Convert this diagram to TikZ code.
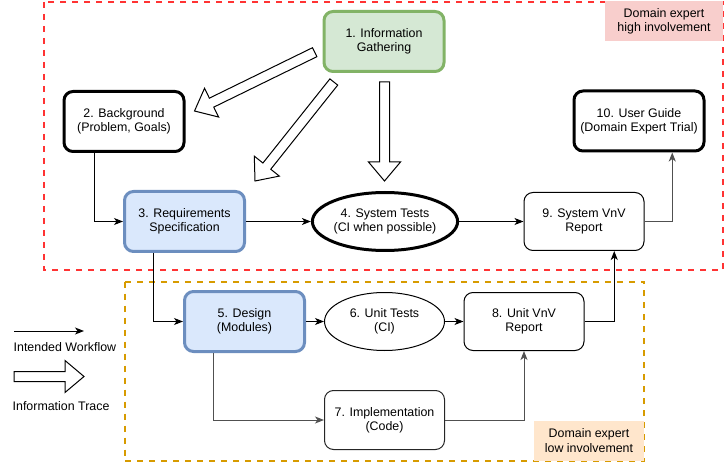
\documentclass[tikz,border=0pt]{standalone}
\usepackage{fontspec}
\setmainfont{Liberation Sans}
\usetikzlibrary{calc,shapes.geometric,arrows.meta}

\definecolor{zoneRed}{HTML}{FF3333}
\definecolor{zoneOrange}{HTML}{D79B00}
\definecolor{tagPink}{HTML}{F8CECC}
\definecolor{tagPeach}{HTML}{FFE6CC}
\definecolor{greenFill}{HTML}{D5E8D4}
\definecolor{greenLine}{HTML}{82B366}
\definecolor{blueFill}{HTML}{DAE8FC}
\definecolor{blueLine}{HTML}{6C8EBF}
\definecolor{edgeGray}{HTML}{505050}

\tikzset{
  txt/.style={font=\fontsize{12.4}{14.4}\selectfont, align=center, text=black},
  box/.style={txt, draw=black, line width=1pt, rounded corners=9pt,
    minimum width=120pt, minimum height=60pt, inner sep=0pt, fill=white},
  boldbox/.style={box, line width=3pt},
  bluebox/.style={box, line width=3pt, draw=blueLine, fill=blueFill},
  greenbox/.style={box, line width=3pt, draw=greenLine, fill=greenFill},
  oval/.style={txt, ellipse, draw=black, line width=1pt, fill=white,
    minimum width=120pt, minimum height=58pt, inner sep=0pt},
  zone/.style={dashed, dash pattern=on 6pt off 6pt, line width=2pt},
  tag/.style={txt, minimum width=#1, minimum height=40pt, inner sep=0pt},
  flow/.style={line width=1pt, -{Stealth[length=9pt,width=7pt,inset=2.5pt]}},
  trace/.style={draw=black, line width=1pt, fill=white, line join=miter},
}

% hollow "information trace" arrow from #1 to #2
\newcommand\tracearrow[2]{%
  \coordinate (tmpH) at ($(#2)!19pt!(#1)$);
  \path[trace]
    ($(#1)!5pt!90:(#2)$) -- ($(tmpH)!5pt!-90:(#1)$) -- ($(tmpH)!16pt!-90:(#1)$)
    -- (#2) -- ($(tmpH)!16pt!90:(#1)$) -- ($(tmpH)!5pt!90:(#1)$)
    -- ($(#1)!5pt!-90:(#2)$) -- cycle;
}

\begin{document}
\begin{tikzpicture}[x=1pt,y=-1pt]
\useasboundingbox (0,0) rectangle (725,462);

% involvement zones
\draw[zone, draw=zoneRed] (44,2) rectangle (723,270);
\draw[zone, draw=zoneOrange] (124.5,281.5) rectangle (644,461);
\node[tag=118pt, fill=tagPink] (hiTag) at (664,21.5) {Domain expert\\high involvement};
\node[tag=110pt, fill=tagPeach] (loTag) at (589,440.5) {Domain expert\\low involvement};

% workflow steps
\node[greenbox] (n1) at (384,41.5) {1. Information\\Gathering};
\node[boldbox] (n2) at (124,121.5) {2. Background\\(Problem, Goals)};
\node[bluebox] (n3) at (184.5,221.5) {3. Requirements\\Specification};
\node[oval, line width=3pt, minimum width=140pt, minimum height=58pt] (n4) at (385,221.5) {4. System Tests\\(CI when possible)};
\node[bluebox] (n5) at (244.5,321.5) {5. Design\\(Modules)};
\node[oval] (n6) at (384.5,321.5) {6. Unit Tests\\(CI)};
\node[box, draw=black!85, minimum height=59pt] (n7) at (384.5,420) {7. Implementation\\(Code)};
\node[box, minimum height=58pt] (n8) at (524,321.5) {8. Unit VnV\\Report};
\node[box, minimum height=58pt] (n9) at (584,221.5) {9. System VnV\\Report};
\node[boldbox, minimum width=130pt] (n10) at (639,121) {10. User Guide\\(Domain Expert Trial)};

% intended workflow
\draw[flow] ($(n2.south west)!0.26!(n2.south east)$) |- (n3.west);
\draw[flow] (n3.east) -- (n4.west);
\draw[flow] ($(n3.south west)!0.25!(n3.south east)$) |- (n5.west);
\draw[flow] (n5.east) -- (n6.west);
\draw[flow] (n6.east) -- (n8.west);
\draw[flow, draw=edgeGray] ($(n5.south west)!0.25!(n5.south east)$) |- (n7.west);
\draw[flow, draw=edgeGray] (n7.east) -| (n8.south);
\draw[flow] (n8.east) -| ($(n9.south west)!0.75!(n9.south east)$);
\draw[flow] (n4.east) -- (n9.west);
\draw[flow, draw=edgeGray] (n9.east) -| ($(n10.south west)!0.75!(n10.south east)$);

% information traces out of step 1
\coordinate (t1a) at (384.5,82);   \coordinate (t1b) at (384.5,181);
\coordinate (t2a) at (314.7,52.2); \coordinate (t2b) at (194.5,111);
\coordinate (t3a) at (333.8,82);   \coordinate (t3b) at (255,181);
\tracearrow{t1a}{t1b}
\tracearrow{t2a}{t2b}
\tracearrow{t3a}{t3b}

% legend
\coordinate (lgA) at (14,331); \coordinate (lgB) at (84,331);
\draw[flow] (lgA) -- (lgB);
\node[txt, anchor=west, inner sep=0pt] (lgFlow) at (13.5,347.5) {Intended Workflow};
\coordinate (lgC) at (14,376.5); \coordinate (lgD) at (84,376.5);
\tracearrow{lgC}{lgD}
\node[txt, anchor=west, inner sep=0pt] (lgTrace) at (12.5,406) {Information Trace};
\end{tikzpicture}
\end{document}
